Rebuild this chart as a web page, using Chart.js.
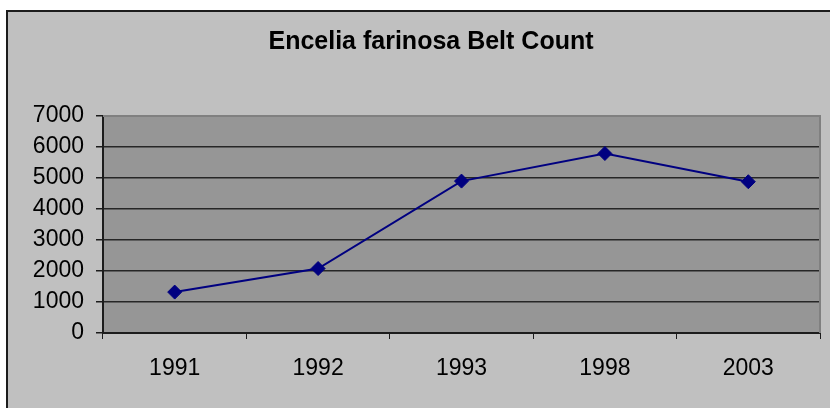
<!DOCTYPE html>
<html>
<head>
<meta charset="utf-8">
<script src="https://cdn.jsdelivr.net/npm/chart.js@4"></script>
<style>
  html, body { margin: 0; padding: 0; background: #ffffff; }
  #wrap { width: 830px; height: 408px; }
</style>
</head>
<body>
<div id="wrap"><canvas id="belt-chart"></canvas></div>
<script>
// data
const years  = ['1991', '1992', '1993', '1998', '2003'];
const counts = [1320, 2080, 4900, 5790, 4880];
const yTicks = [0, 1000, 2000, 3000, 4000, 5000, 6000, 7000];
const chartTitle = 'Encelia farinosa Belt Count';

const FONT = '"Liberation Sans", Arial, sans-serif';

//chart plugins [excelFrame] - grey chart box + plot area
const excelFrame = {
    id: 'excelFrame',
    beforeDraw: (chart) => {
        const {ctx, width, height, chartArea: {top, bottom, left, right}} = chart;
        ctx.save();
        ctx.fillStyle = '#ffffff';
        ctx.fillRect(0, 0, width, height);
        ctx.fillStyle = '#c0c0c0';
        ctx.fillRect(7, 11, width, height);
        ctx.strokeStyle = '#1c1c1c';
        ctx.lineWidth = 2;
        ctx.strokeRect(7, 11, width + 10, height + 10);

        ctx.fillStyle = '#969696';
        ctx.fillRect(left, top, right - left, bottom - top);
        ctx.restore();
    },
    beforeDatasetsDraw: (chart) => {
        const {ctx, chartArea: {top, bottom, left, right}} = chart;
        ctx.save();
        ctx.strokeStyle = '#808080';
        ctx.lineWidth = 2;
        ctx.beginPath();
        ctx.moveTo(left, top);
        ctx.lineTo(right, top);
        ctx.lineTo(right, bottom);
        ctx.stroke();
        ctx.restore();
    },
    afterDraw: (chart, args, options) => {
        const {ctx} = chart;
        ctx.save();
        ctx.font = 'bold 25px ' + FONT;
        ctx.fillStyle = '#000000';
        ctx.textAlign = 'center';
        ctx.textBaseline = 'middle';
        ctx.fillText(options.text, 431, 42);
        ctx.restore();
    }
};

const ctx = document.getElementById('belt-chart');

let beltChart = new Chart(ctx, {
    type: 'line',
    data: {
        labels: years,
        datasets: [{
            data: counts,
            borderColor: '#000080',
            backgroundColor: '#000080',
            borderWidth: 2,
            pointStyle: 'rectRot',
            pointRadius: 7,
            pointBorderWidth: 1,
            pointBackgroundColor: '#000080',
            pointBorderColor: '#000080',
            tension: 0
        }]
    },
    options: {
        responsive: true,
        maintainAspectRatio: false,
        animation: false,
        layout: {
            autoPadding: false,
            padding: { top: 116, right: 10, left: 0, bottom: 0 }
        },
        scales: {
            x: {
                offset: true,
                afterFit: (scale) => { scale.height = 75; },
                grid: {
                    offset: true,
                    drawOnChartArea: false,
                    tickLength: 6,
                    tickColor: '#1c1c1c'
                },
                border: { color: '#1c1c1c', width: 2 },
                ticks: {
                    color: '#000000',
                    padding: 16,
                    maxRotation: 0,
                    font: { family: FONT, size: 23 }
                }
            },
            y: {
                min: yTicks[0],
                max: yTicks[yTicks.length - 1],
                afterFit: (scale) => { scale.width = 103; },
                afterBuildTicks: (scale) => {
                    scale.ticks = yTicks.map(v => ({ value: v }));
                },
                grid: {
                    color: (c) => c.tick && c.tick.value === 7000 ? 'rgba(0,0,0,0)' : '#262626',
                    lineWidth: 1.5,
                    tickLength: 7,
                    tickColor: '#1c1c1c'
                },
                border: { color: '#1c1c1c', width: 2 },
                ticks: {
                    color: '#000000',
                    padding: 12,
                    font: { family: FONT, size: 23 },
                    callback: (v) => String(v)
                }
            }
        },
        plugins: {
            legend: false,
            tooltip: { enabled: false },
            excelFrame: { text: chartTitle }
        }
    },
    plugins: [excelFrame]
});
</script>
</body>
</html>
